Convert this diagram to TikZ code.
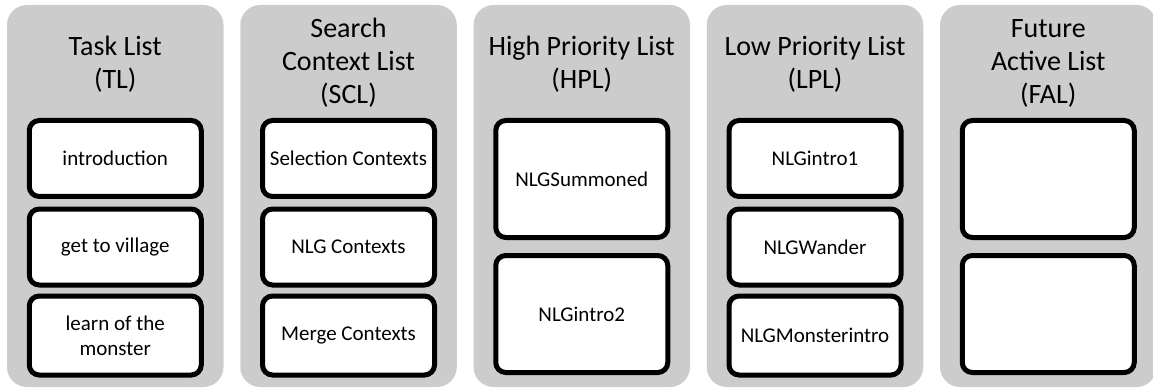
\documentclass[tikz,border=0pt]{standalone}
\usepackage{fontspec}
\setmainfont{Carlito}
\definecolor{panelgray}{RGB}{204,204,204}
\begin{document}
\begin{tikzpicture}[x=1pt,y=-1pt,
  panel/.style={fill=panelgray, draw=none, rounded corners=20pt, minimum width=216.5pt, minimum height=382pt, inner sep=0pt},
  item/.style={draw=black, line width=5pt, fill=white, rounded corners=10pt, minimum width=172pt, inner sep=0pt, align=center, font=\fontsize{21}{25}\selectfont},
  short/.style={item, minimum height=76pt},
  tall/.style={item, minimum height=117pt},
  title/.style={align=center, inner sep=0pt, font=\fontsize{28}{33}\selectfont}]
\useasboundingbox (0,0) rectangle (1153,390);
% panels
\node[panel] (p1) at (115.25,196) {};
\node[panel] (p2) at (348.5,196) {};
\node[panel] (p3) at (581.75,196) {};
\node[panel] (p4) at (815,196) {};
\node[panel] (p5) at (1048.25,196) {};
% titles
\node[title] (t1) at (115.25,64) {Task List\\(TL)};
\node[title] (t2) at (348.5,63) {Search\\Context List\\(SCL)};
\node[title] (t3) at (581.75,64) {High Priority List\\(HPL)};
\node[title] (t4) at (815,64) {Low Priority List\\(LPL)};
\node[title] (t5) at (1048.25,63) {Future\\Active List\\(FAL)};
% TL
\node[short] (tl1) at (115.25,158.5) {introduction};
\node[short] (tl2) at (115.25,247) {get to village};
\node[short, minimum height=79pt] (tl3) at (115.25,335.5) {learn of the\\monster};
% SCL
\node[short] (sc1) at (348.5,158.5) {Selection Contexts};
\node[short] (sc2) at (348.5,247) {NLG Contexts};
\node[short, minimum height=79pt] (sc3) at (348.5,335.5) {Merge Contexts};
% HPL
\node[tall] (hp1) at (581.75,179) {NLGSummoned};
\node[tall] (hp2) at (581.75,314) {NLGintro2};
% LPL
\node[short] (lp1) at (815,158.5) {NLGintro1};
\node[short] (lp2) at (815,247) {NLGWander};
\node[short, minimum height=79pt] (lp3) at (815,335.5) {NLGMonsterintro};
% FAL
\node[tall] (fa1) at (1048.25,179) {};
\node[tall] (fa2) at (1048.25,314) {};
\end{tikzpicture}
\end{document}
